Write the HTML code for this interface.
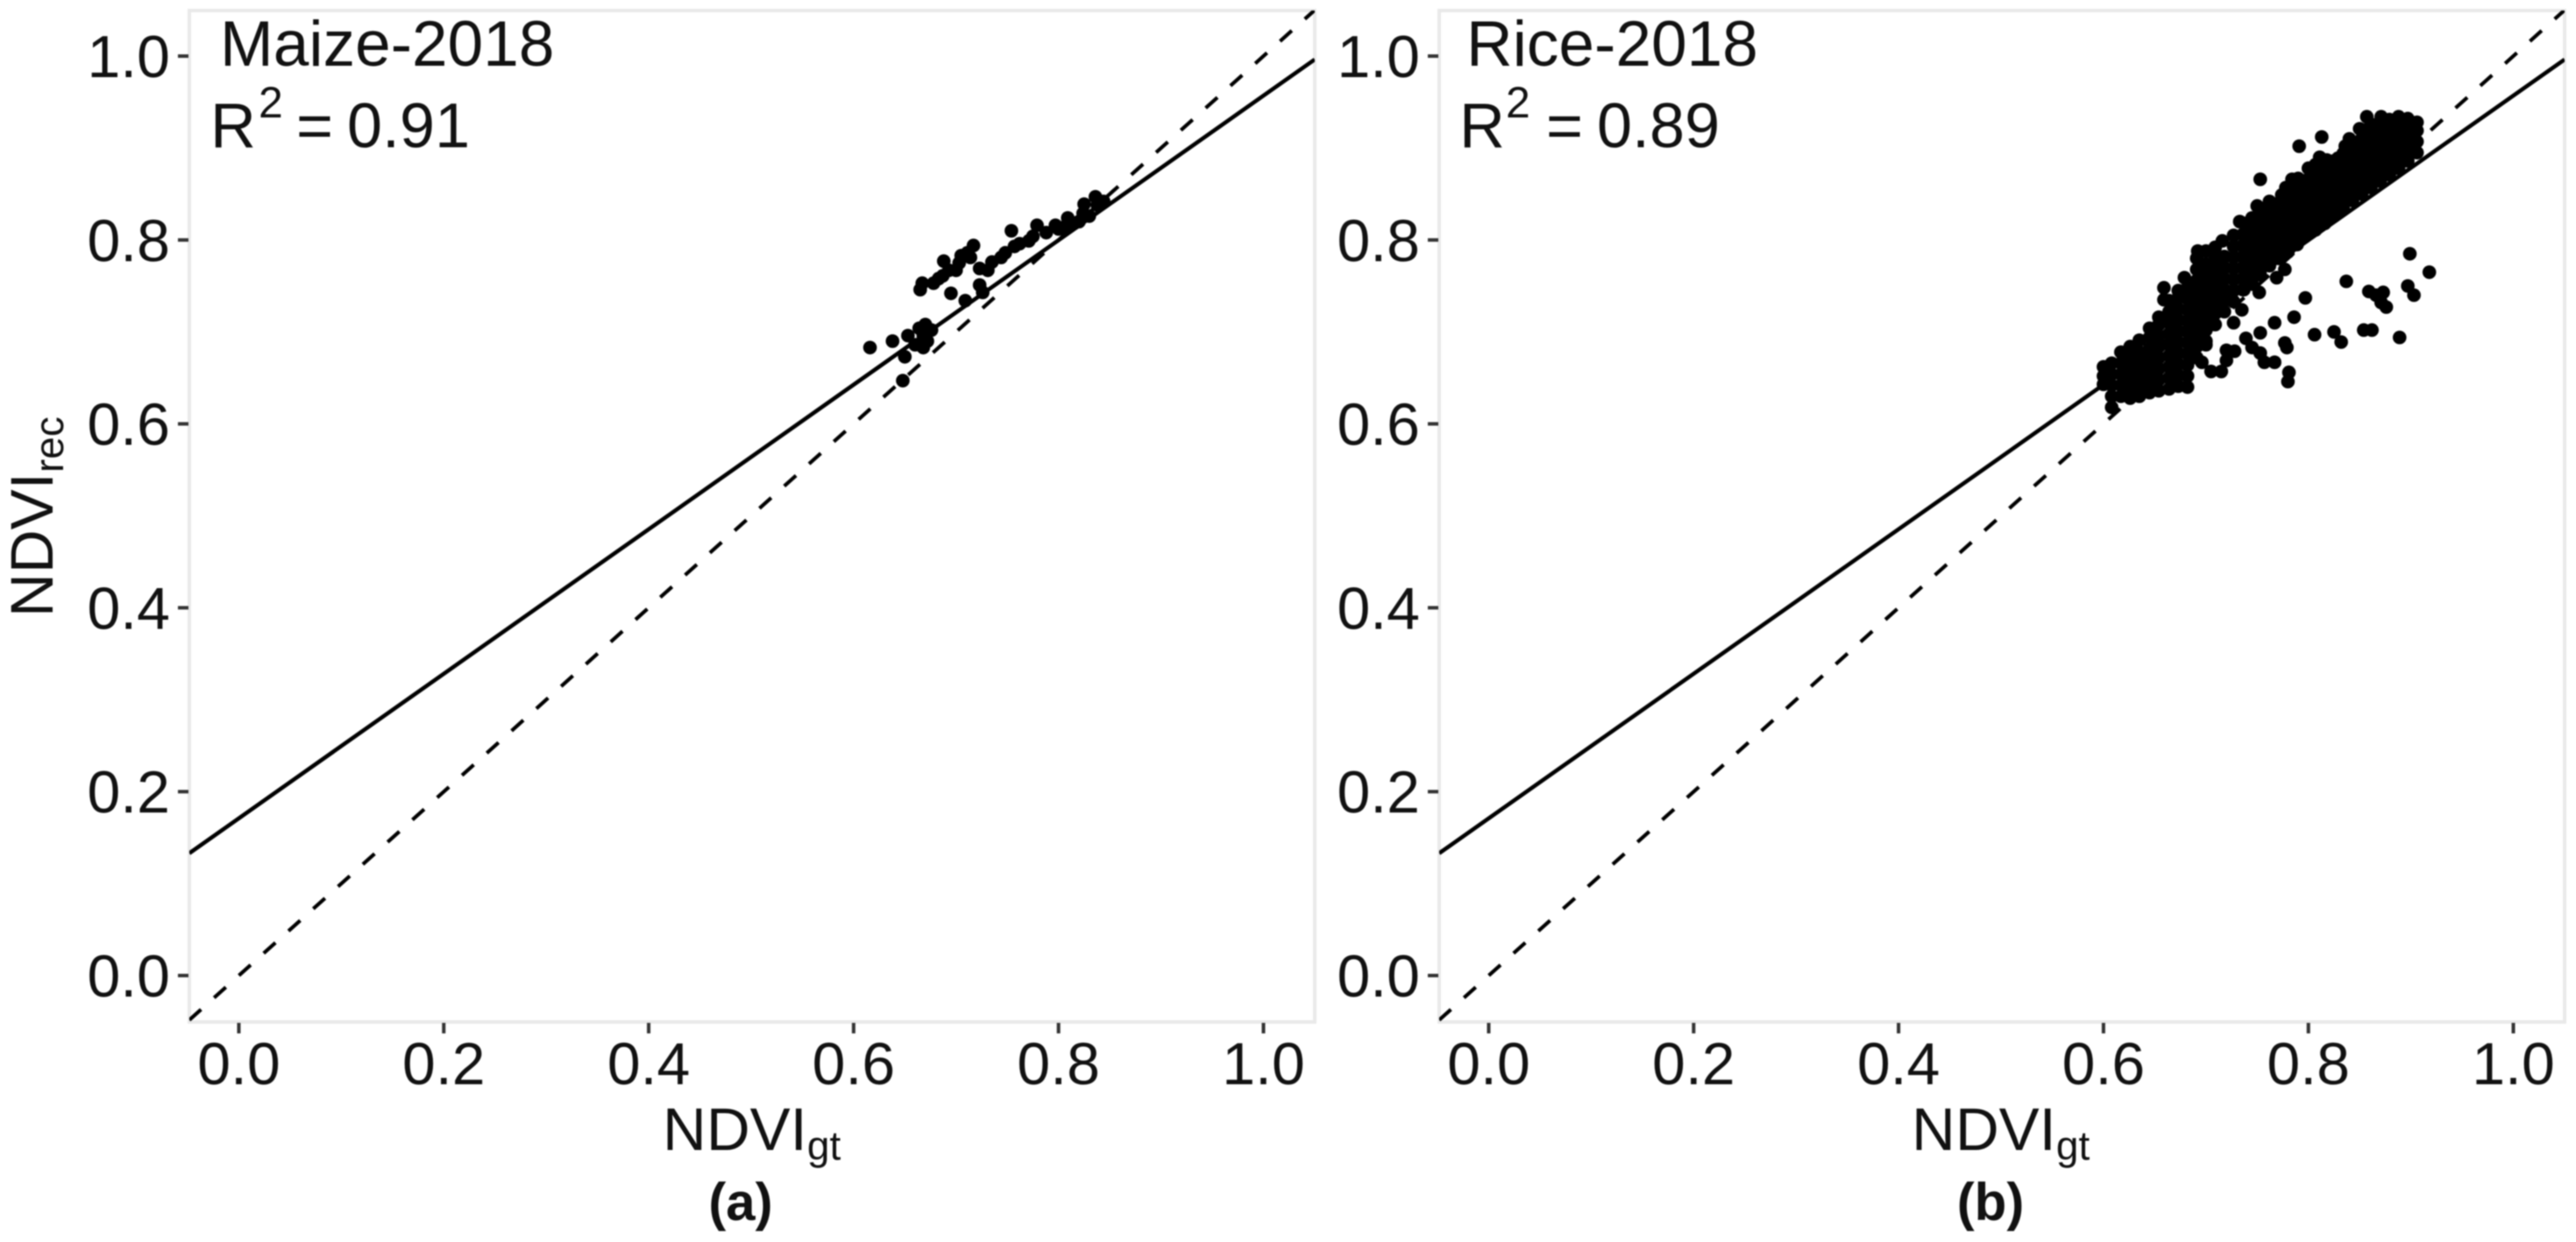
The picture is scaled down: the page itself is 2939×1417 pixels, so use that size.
<!DOCTYPE html>
<html lang="en">
<head>
<meta charset="utf-8">
<title>NDVI scatter comparison</title>
<style>
html,body{margin:0;padding:0;background:#fff;}
body{width:2939px;height:1417px;overflow:hidden;}
svg{display:block;filter:blur(0.7px);}
text{font-family:"Liberation Sans",sans-serif;fill:#111;}
</style>
</head>
<body>
<svg id="chart" xmlns="http://www.w3.org/2000/svg" width="2939" height="1417" viewBox="0 0 2939 1417">
  <rect x="0" y="0" width="2939" height="1417" fill="#fff"/>
  <defs>
    <clipPath id="clip-a"><rect x="216" y="12" width="1284" height="1154"/></clipPath>
    <clipPath id="clip-b"><rect x="1642" y="12" width="1284" height="1154"/></clipPath>
  </defs>
  <g id="panel-a"></g>
  <g id="panel-b"></g>

  <text x="251" y="75" font-size="73">Maize-2018</text>
  <text y="168" font-size="72"><tspan x="240">R</tspan><tspan x="295" y="134" font-size="50">2</tspan><tspan x="338" y="168">=</tspan><tspan x="396" y="168">0.91</tspan></text>
  <text x="1673" y="75" font-size="73">Rice-2018</text>
  <text y="168" font-size="72"><tspan x="1665">R</tspan><tspan x="1718" y="134" font-size="50">2</tspan><tspan x="1764" y="168">=</tspan><tspan x="1822" y="168">0.89</tspan></text>

  <text transform="translate(60,704) rotate(-90)" font-size="69">NDVI<tspan font-size="46" dy="12">rec</tspan></text>
  <text x="756" y="1312" font-size="69">NDVI<tspan font-size="46" dy="11">gt</tspan></text>
  <text x="2181" y="1312" font-size="69">NDVI<tspan font-size="46" dy="11">gt</tspan></text>
  <text x="845" y="1392" font-size="60" font-weight="700" text-anchor="middle">(a)</text>
  <text x="2271" y="1392" font-size="60" font-weight="700" text-anchor="middle">(b)</text>
</svg>
<script>
const xTicks = [0.0, 0.2, 0.4, 0.6, 0.8, 1.0];
const yTicks = [0.0, 0.2, 0.4, 0.6, 0.8, 1.0];
const fitLineA = [0.171, 0.786];
const fitLineB = [0.171, 0.786];
const identityLine = [0, 1];

const maizePoints = [
[.616,.683],[.638,.690],[.648,.647],[.650,.673],[.653,.696],[.660,.686],[.664,.704],[.668,.683],
[.670,.708],[.668,.696],[.676,.702],[.672,.690],[.695,.742],[.709,.734],[.665,.746],[.667,.753],
[.678,.753],[.687,.761],[.688,.777],[.693,.767],[.700,.767],[.705,.783],[.711,.786],[.717,.794],
[.714,.781],[.723,.751],[.726,.743],[.723,.769],[.731,.767],[.744,.781],[.748,.786],[.754,.810],
[.762,.796],[.771,.799],[.779,.816],[.788,.808],[.797,.816],[.809,.824],[.807,.815],[.820,.820],
[.824,.829],[.825,.839],[.836,.847],[.844,.842],[.830,.826],[.815,.818],[.757,.793],[.735,.776],
[.683,.758],[.703,.775],[.775,.804],[.800,.812],[.838,.838]
];

const riceBody = [
[.600,.643],[.600,.652],[.600,.662],
[.608,.618],[.608,.630],[.608,.642],[.608,.654],[.608,.666],
[.617,.630],[.617,.642],[.617,.654],[.617,.666],[.617,.678],
[.626,.628],[.626,.640],[.626,.652],[.626,.664],[.626,.676],[.626,.684],
[.635,.630],[.635,.642],[.635,.654],[.635,.666],[.635,.678],[.635,.691],
[.645,.634],[.645,.646],[.645,.658],[.645,.670],[.645,.682],[.645,.694],[.645,.704],
[.654,.636],[.654,.648],[.654,.660],[.654,.672],[.654,.684],[.654,.696],[.654,.708],[.654,.716],
[.659,.748],[.659,.735],
[.664,.638],[.664,.650],[.664,.662],[.664,.674],[.664,.686],[.664,.698],[.664,.710],[.664,.722],[.664,.734],
[.673,.641],[.673,.653],[.673,.665],[.673,.677],[.673,.689],[.673,.701],[.673,.713],[.673,.725],[.673,.737],[.673,.745],
[.682,.640],[.682,.652],[.682,.664],[.682,.676],[.682,.688],[.682,.700],[.682,.712],[.682,.724],[.682,.736],[.682,.748],[.679,.759],
[.691,.672],[.691,.684],[.691,.696],[.691,.708],[.691,.720],[.691,.732],[.691,.744],[.691,.756],[.691,.768],[.691,.780],[.692,.788],
[.700,.690],[.700,.702],[.700,.714],[.700,.726],[.700,.738],[.700,.750],[.700,.762],[.700,.774],[.700,.788],
[.709,.708],[.709,.720],[.709,.732],[.709,.744],[.709,.756],[.709,.768],[.709,.780],[.709,.792],
[.718,.722],[.718,.734],[.718,.746],[.718,.758],[.718,.770],[.718,.782],[.716,.799],
[.727,.733],[.727,.745],[.727,.757],[.727,.769],[.727,.781],[.727,.793],[.727,.805],[.733,.820],
[.736,.746],[.736,.758],[.736,.770],[.736,.782],[.736,.794],[.736,.806],[.738,.818],
[.745,.752],[.745,.764],[.745,.776],[.745,.788],[.745,.800],[.745,.812],[.745,.824],[.750,.837],
[.753,.762],[.753,.774],[.753,.786],[.753,.798],[.753,.810],[.753,.822],[.755,.831],
[.762,.772],[.762,.784],[.762,.796],[.762,.808],[.762,.820],[.762,.832],[.762,.842],
[.771,.780],[.771,.792],[.771,.804],[.771,.816],[.771,.828],[.771,.840],[.774,.849],
[.780,.787],[.780,.799],[.780,.811],[.780,.823],[.780,.835],[.780,.847],[.784,.866],[.778,.857],
[.789,.795],[.789,.807],[.789,.819],[.789,.831],[.789,.843],[.789,.855],[.790,.867],
[.798,.805],[.798,.817],[.798,.829],[.798,.841],[.798,.853],[.798,.865],[.800,.878],
[.807,.811],[.807,.823],[.807,.835],[.807,.847],[.807,.859],[.807,.871],[.811,.890],[.807,.882],
[.816,.818],[.816,.830],[.816,.842],[.816,.854],[.816,.866],[.816,.878],[.818,.887],
[.825,.826],[.825,.838],[.825,.850],[.825,.862],[.825,.874],[.825,.886],[.829,.889],
[.834,.834],[.834,.846],[.834,.858],[.834,.870],[.834,.882],[.834,.894],[.836,.902],
[.843,.843],[.843,.855],[.843,.867],[.843,.879],[.843,.891],[.843,.903],[.840,.910],
[.852,.850],[.852,.862],[.852,.874],[.852,.886],[.852,.898],[.852,.910],[.850,.921],
[.861,.857],[.861,.869],[.861,.881],[.861,.893],[.861,.905],[.861,.917],[.857,.934],[.861,.926],
[.870,.864],[.870,.876],[.870,.888],[.870,.900],[.870,.912],[.870,.924],[.871,.934],
[.879,.871],[.879,.883],[.879,.895],[.879,.907],[.879,.919],[.879,.931],
[.888,.878],[.888,.890],[.888,.902],[.888,.914],[.888,.926],[.888,.934],
[.897,.886],[.897,.898],[.897,.910],[.897,.922],[.897,.932],
[.906,.895],[.906,.907],[.906,.919],[.906,.928]
];

const riceOutliers = [
[.753,.866],[.791,.902],[.813,.912],[.899,.785],[.918,.765],[.837,.755],[.797,.737],[.786,.716],
[.767,.710],[.753,.699],[.735,.724],[.727,.710],[.739,.693],[.745,.683],[.753,.677],[.757,.667],
[.767,.667],[.777,.688],[.779,.683],[.781,.656],[.780,.646],[.806,.697],[.825,.700],[.832,.689],
[.854,.702],[.862,.702],[.889,.694],[.859,.744],[.866,.740],[.873,.743],[.876,.727],[.871,.732],
[.897,.750],[.903,.740],[.696,.667],[.705,.657],[.715,.657],[.720,.669],[.720,.680],[.728,.679],
[.700,.686],[.769,.759],[.777,.768],[.752,.743],[.737,.746]
];

const NS = 'http://www.w3.org/2000/svg';
const Y0 = 1113, Y_UNIT = 1049, X_UNIT = 1169;
const PANEL_TOP = 12, PANEL_BOTTOM = 1166, PANEL_WIDTH = 1284;

function make(parent, tag, attrs) {
  const el = document.createElementNS(NS, tag);
  for (const k in attrs) el.setAttribute(k, attrs[k]);
  parent.appendChild(el);
  return el;
}

function drawPanel(rootId, left, x0, tickEnd, clipId, fit, series, prefix) {
  const root = document.getElementById(rootId);
  const sx = v => x0 + v * X_UNIT;
  const sy = v => Y0 - v * Y_UNIT;

  const frame = make(root, 'rect', {x: left, y: PANEL_TOP, width: PANEL_WIDTH, height: PANEL_BOTTOM - PANEL_TOP, fill: 'none', stroke: '#e9e9e9', 'stroke-width': 4});
  
  

  yTicks.forEach(v => {
    const mark = make(root, 'line', {x1: left - 13, x2: left - 1, y1: sy(v), y2: sy(v), stroke: '#333', 'stroke-width': 4});
    
    
    const label = make(root, 'text', {x: tickEnd, y: sy(v) + 24, 'font-size': 68, 'text-anchor': 'end'});
    
    
    label.textContent = v.toFixed(1);
  });

  xTicks.forEach(v => {
    const mark = make(root, 'line', {x1: sx(v), x2: sx(v), y1: PANEL_BOTTOM + 1, y2: PANEL_BOTTOM + 13, stroke: '#333', 'stroke-width': 4});
    
    
    const label = make(root, 'text', {x: sx(v), y: 1237, 'font-size': 68, 'text-anchor': 'middle'});
    
    
    label.textContent = v.toFixed(1);
  });

  const plot = make(root, 'g', {'clip-path': 'url(#' + clipId + ')'});
  
  

  const lineAt = (c, v) => c[0] + c[1] * v;
  const vMin = (left - x0) / X_UNIT, vMax = (left + PANEL_WIDTH - x0) / X_UNIT;

  series.forEach(pts => pts.forEach(p => {
    const dot = make(plot, 'circle', {cx: sx(p[0]), cy: sy(p[1]), r: 7.8, fill: '#000'});
    
    
  }));

  const identity = make(plot, 'line', {x1: sx(vMin), y1: sy(lineAt(identityLine, vMin)), x2: sx(vMax), y2: sy(lineAt(identityLine, vMax)), stroke: '#000', 'stroke-width': 4.2, 'stroke-dasharray': '18 20'});
  
  

  const fitted = make(plot, 'line', {x1: sx(vMin), y1: sy(lineAt(fit, vMin)), x2: sx(vMax), y2: sy(lineAt(fit, vMax)), stroke: '#000', 'stroke-width': 4.6});
  
  
}

drawPanel('panel-a', 216, 272.5, 194, 'clip-a', fitLineA, [maizePoints], 'maize');
drawPanel('panel-b', 1642, 1698.5, 1620, 'clip-b', fitLineB, [riceBody, riceOutliers], 'rice');
</script>
</body>
</html>
